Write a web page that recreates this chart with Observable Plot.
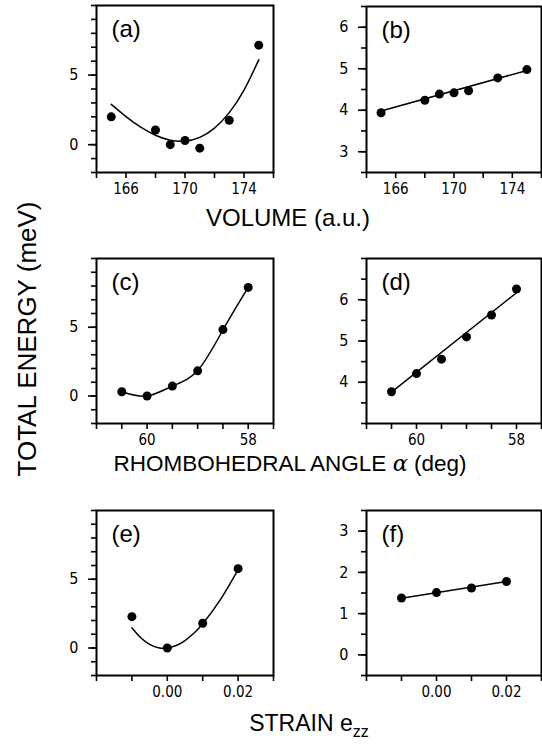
<!DOCTYPE html>
<html><head><meta charset="utf-8">
<script src="https://cdn.jsdelivr.net/npm/d3@7"></script>
<script src="https://cdn.jsdelivr.net/npm/@observablehq/plot@0.6"></script>
<style>
html,body{margin:0;padding:0;background:#fff;}
#chart{position:relative;width:542px;height:746px;overflow:hidden;}
.panel{position:absolute;}
#titles{position:absolute;left:0;top:0;pointer-events:none;}
</style></head><body><div id="chart"></div>
<script>
const FONT = '"Liberation Sans Narrow","DejaVu Sans Condensed","Liberation Sans",Arial,sans-serif';
const TFONT = '"Liberation Sans",Arial,sans-serif';

// ---- (a) volume vs energy, fitted curve ----
const volumeA = [165, 168, 169, 170, 171, 173, 175];
const energyA = [2.0, 1.05, 0.0, 0.3, -0.25, 1.75, 7.15];
const fitVolumeA = [165, 166, 167, 168, 169, 170, 171, 172, 173, 174, 175];
const fitEnergyA = [2.9, 2.02, 1.26, 0.68, 0.32, 0.25, 0.52, 1.19, 2.3, 3.92, 6.1];
// ---- (b) ----
const volumeB = [165, 168, 169, 170, 171, 173, 175];
const energyB = [3.94, 4.24, 4.39, 4.42, 4.47, 4.78, 4.98];
const fitVolumeB = [165, 175];
const fitEnergyB = [3.98, 4.96];
// ---- (c) rhombohedral angle ----
const angleC = [60.5, 60, 59.5, 59, 58.5, 58];
const energyC = [0.31, 0.0, 0.72, 1.83, 4.83, 7.9];
const fitAngleC = [60.5, 60, 59.5, 59, 58.5, 58];
const fitEnergyC = [0.31, 0.0, 0.72, 1.85, 4.8, 7.9];
// ---- (d) ----
const angleD = [60.5, 60, 59.5, 59, 58.5, 58];
const energyD = [3.77, 4.21, 4.56, 5.10, 5.63, 6.26];
const fitAngleD = [60.5, 58];
const fitEnergyD = [3.76, 6.17];
// ---- (e) strain ----
const strainE = [-0.01, 0.0, 0.01, 0.02];
const energyE = [2.28, 0.0, 1.8, 5.77];
const fitStrainE = [-0.01, -0.0075, -0.005, -0.0025, 0, 0.0025, 0.005, 0.0075, 0.01, 0.015, 0.02];
const fitEnergyE = [1.47, 0.74, 0.27, 0.02, 0.0, 0.18, 0.54, 1.07, 1.76, 3.52, 5.7];
// ---- (f) ----
const strainF = [-0.01, 0.0, 0.01, 0.02];
const energyF = [1.38, 1.51, 1.62, 1.78];
const fitStrainF = [-0.01, 0.02];
const fitEnergyF = [1.37, 1.78];

// ---- ticks and tick labels ----
const volumeTicks = [164, 166, 168, 170, 172, 174, 176];
const volumeLabels = [166, 170, 174];
const angleTicks = [61, 60.5, 60, 59.5, 59, 58.5, 58, 57.5];
const angleLabels = [60, 58];
const strainTicks = [-0.02, -0.01, 0, 0.01, 0.02, 0.03];
const strainLabels = [0, 0.02];
const wideMinor = [-2, -1, 0, 1, 2, 3, 4, 5, 6, 7, 8, 9, 10];
const wideMajor = [0, 5];
const bMinor = [2.5, 3, 3.5, 4, 4.5, 5, 5.5, 6, 6.5];
const bMajor = [3, 4, 5, 6];
const dMinor = [3, 3.5, 4, 4.5, 5, 5.5, 6, 6.5, 7];
const dMajor = [4, 5, 6];
const fMinor = [-0.5, 0, 0.5, 1, 1.5, 2, 2.5, 3, 3.5];
const fMajor = [0, 1, 2, 3];

const zip = (xs, ys) => xs.map((x, i) => ({x, y: ys[i]}));
const chart = document.getElementById("chart");

function panel(o) {
  const ml = 50, mt = 5, mb = 35, mr = o.mr;
  const p = Plot.plot({
    width: ml + o.fw + mr, height: mt + o.fh + mb,
    marginLeft: ml, marginTop: mt, marginBottom: mb, marginRight: mr,
    style: {fontFamily: FONT, fontSize: "15px", color: "#000", background: "transparent", overflow: "visible"},
    x: {domain: o.xDomain}, y: {domain: o.yDomain},
    marks: [
      // outward tick marks
      Plot.tickX(o.xTicks, {x: d => d, insetTop: o.fh, insetBottom: -6, stroke: "#000", strokeWidth: 1.6}),
      Plot.tickY(o.yMinor, {y: d => d, insetLeft: -5, insetRight: o.fw, stroke: "#000", strokeWidth: 1.6}),
      Plot.tickY(o.yMajor, {y: d => d, insetLeft: -8, insetRight: o.fw, stroke: "#000", strokeWidth: 1.6}),
      // tick labels
      Plot.axisX({ticks: o.xLabels, tickSize: 0, tickPadding: 11, label: null, tickFormat: o.xFormat}),
      Plot.axisY({ticks: o.yMajor, tickSize: 0, tickPadding: 18, label: null, tickFormat: d => String(d), fontSize: 16}),
      Plot.frame({stroke: "#000", strokeWidth: 2}),
      Plot.line(zip(o.fitX, o.fitY), {x: "x", y: "y", curve: "natural", stroke: "#000", strokeWidth: 1.5}),
      Plot.dot(zip(o.ptX, o.ptY), {x: "x", y: "y", r: 4.5, fill: "#000"}),
      Plot.text([o.label], {frameAnchor: "top-left", text: d => d, dx: 15, dy: 14,
        textAnchor: "start", lineAnchor: "top", fontSize: 24, fontFamily: TFONT})
    ]
  });
  p.classList.add("panel");
  p.style.left = (o.left - ml) + "px";
  p.style.top = (o.top - mt) + "px";
  chart.appendChild(p);
}

const intFmt = d3.format("d");
const strainFmt = d3.format(".2f");
const L = 96, R = 366, FWL = 177, FWR = 175;

panel({left: L, top: 5, fw: FWL, fh: 167, mr: 10, xDomain: [164, 176], yDomain: [-2, 10],
  xTicks: volumeTicks, xLabels: volumeLabels, xFormat: intFmt, yMinor: wideMinor, yMajor: wideMajor,
  ptX: volumeA, ptY: energyA, fitX: fitVolumeA, fitY: fitEnergyA, label: "(a)"});
panel({left: R, top: 6, fw: FWR, fh: 166, mr: 1, xDomain: [164, 176], yDomain: [2.5, 6.5],
  xTicks: volumeTicks, xLabels: volumeLabels, xFormat: intFmt, yMinor: bMinor, yMajor: bMajor,
  ptX: volumeB, ptY: energyB, fitX: fitVolumeB, fitY: fitEnergyB, label: "(b)"});
panel({left: L, top: 258, fw: FWL, fh: 165, mr: 10, xDomain: [61, 57.5], yDomain: [-2, 10],
  xTicks: angleTicks, xLabels: angleLabels, xFormat: intFmt, yMinor: wideMinor, yMajor: wideMajor,
  ptX: angleC, ptY: energyC, fitX: fitAngleC, fitY: fitEnergyC, label: "(c)"});
panel({left: R, top: 258, fw: FWR, fh: 165, mr: 1, xDomain: [61, 57.5], yDomain: [3, 7],
  xTicks: angleTicks, xLabels: angleLabels, xFormat: intFmt, yMinor: dMinor, yMajor: dMajor,
  ptX: angleD, ptY: energyD, fitX: fitAngleD, fitY: fitEnergyD, label: "(d)"});
panel({left: L, top: 510, fw: FWL, fh: 165, mr: 10, xDomain: [-0.02, 0.03], yDomain: [-2, 10],
  xTicks: strainTicks, xLabels: strainLabels, xFormat: strainFmt, yMinor: wideMinor, yMajor: wideMajor,
  ptX: strainE, ptY: energyE, fitX: fitStrainE, fitY: fitEnergyE, label: "(e)"});
panel({left: R, top: 510, fw: FWR, fh: 165, mr: 1, xDomain: [-0.02, 0.03], yDomain: [-0.5, 3.5],
  xTicks: strainTicks, xLabels: strainLabels, xFormat: strainFmt, yMinor: fMinor, yMajor: fMajor,
  ptX: strainF, ptY: energyF, fitX: fitStrainF, fitY: fitEnergyF, label: "(f)"});

// ---- axis titles ----
const svg = d3.create("svg").attr("id", "titles").attr("width", 542).attr("height", 746)
  .attr("font-family", TFONT).attr("fill", "#000");
svg.append("text").attr("x", 288).attr("y", 226).attr("text-anchor", "middle")
  .attr("font-size", 24).text("VOLUME (a.u.)");
const t2 = svg.append("text").attr("x", 290).attr("y", 471).attr("text-anchor", "middle").attr("font-size", 22.5);
t2.append("tspan").text("RHOMBOHEDRAL ANGLE ");
t2.append("tspan").attr("font-style", "italic").attr("font-family", '"DejaVu Serif",serif').text("α");
t2.append("tspan").text(" (deg)");
const t3 = svg.append("text").attr("x", 309).attr("y", 731).attr("text-anchor", "middle").attr("font-size", 23);
t3.append("tspan").text("STRAIN e");
t3.append("tspan").attr("font-size", 16).attr("dy", 6).text("zz");
svg.append("text").attr("transform", "translate(36,339) rotate(-90)").attr("text-anchor", "middle")
  .attr("font-size", 26).text("TOTAL ENERGY (meV)");
chart.appendChild(svg.node());
</script></body></html>
